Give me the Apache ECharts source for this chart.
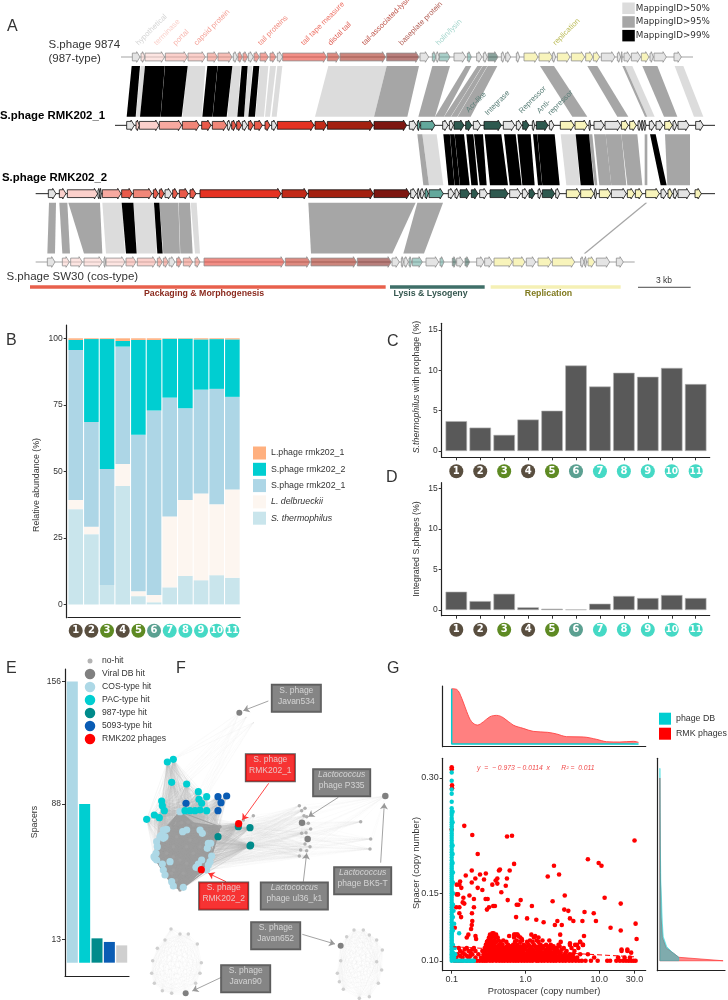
<!DOCTYPE html>
<html>
<head>
<meta charset="utf-8">
<style>html,body{margin:0;padding:0;background:#fff}#main{width:728px;height:1000px}</style>
<script src="https://cdn.jsdelivr.net/npm/echarts@6/dist/echarts.min.js"></script>
</head>
<body>
<div id="main"></div>
<script>
// ---------- panel A: genome tracks, [start, end, function]
const geneFill = { h:'#e4e4e4', term:'#fbd0cb', port:'#f7a9a0', caps:'#f08678', tail:'#e95a4a', tape:'#e53222', dist:'#c22a18', assoc:'#a32010', base:'#7d1610', holin:'#63a89c', lys:'#2e594f', rep:'#f8f4bb' };
const trackSpans = [[363,2079],[345,2145],[107,2145],[107,1904]];
const genes9874 = [[397,420,'h'],[423,435,'term'],[435,494,'term'],[496,562,'port'],[564,616,'port'],[622,652,'caps'],[654,696,'caps'],[700,712,'h'],[714,727,'tail'],[729,743,'tail'],[745,760,'h'],[762,778,'tail'],[780,805,'tail'],[810,828,'tail'],[832,848,'h'],[848,980,'tape'],[982,1018,'dist'],[1020,1157,'assoc'],[1160,1257,'base'],[1260,1286,'h'],[1297,1308,'holin'],[1308,1318,'h'],[1318,1350,'holin'],[1362,1397,'h'],[1402,1414,'holin'],[1430,1446,'h'],[1450,1462,'h'],[1464,1494,'lys'],[1504,1514,'h'],[1517,1532,'h'],[1549,1559,'h'],[1572,1614,'rep'],[1617,1657,'rep'],[1657,1667,'h'],[1672,1710,'rep'],[1714,1754,'rep'],[1757,1779,'rep'],[1780,1799,'rep'],[1804,1845,'h'],[1852,1862,'h'],[1864,1867,'h'],[1872,1892,'h'],[1894,1922,'h'],[1924,1947,'rep'],[1950,1960,'h'],[1962,1999,'h'],[2022,2044,'h']];
const genesRmk1 = [[380,403,'h'],[408,418,'term'],[418,477,'term'],[478,545,'port'],[547,598,'caps'],[605,633,'tail'],[637,680,'caps'],[682,692,'h'],[695,708,'tail'],[710,725,'tail'],[727,742,'h'],[745,760,'tail'],[763,787,'tail'],[795,810,'tail'],[815,830,'h'],[832,942,'tape'],[945,980,'dist'],[982,1119,'assoc'],[1122,1220,'base'],[1228,1249,'h'],[1252,1260,'holin'],[1262,1305,'holin'],[1328,1344,'h'],[1348,1360,'h'],[1362,1392,'lys'],[1397,1415,'lys'],[1420,1442,'h'],[1452,1504,'lys'],[1510,1544,'h'],[1549,1565,'h'],[1568,1587,'lys'],[1597,1604,'h'],[1609,1644,'lys'],[1648,1662,'h'],[1681,1722,'rep'],[1725,1762,'rep'],[1767,1772,'h'],[1782,1812,'h'],[1815,1862,'h'],[1864,1885,'rep'],[1889,1909,'rep'],[1914,1922,'h'],[1924,1930,'h'],[1932,1938,'h'],[1948,1964,'h'],[1968,1989,'h'],[1994,2017,'rep'],[2019,2030,'h'],[2034,2067,'h'],[2087,2110,'h']];
const genesRmk2 = [[145,168,'h'],[178,198,'term'],[202,293,'term'],[294,300,'h'],[300,304,'h'],[307,363,'port'],[365,397,'tail'],[400,456,'caps'],[460,475,'tail'],[478,492,'tail'],[495,515,'h'],[518,533,'tail'],[538,565,'tail'],[570,588,'tail'],[600,843,'tape'],[846,922,'dist'],[925,1120,'assoc'],[1122,1229,'base'],[1232,1249,'h'],[1252,1259,'h'],[1262,1272,'h'],[1275,1285,'holin'],[1287,1330,'holin'],[1345,1362,'h'],[1365,1377,'h'],[1380,1409,'lys'],[1414,1434,'lys'],[1439,1462,'h'],[1470,1524,'lys'],[1529,1562,'h'],[1567,1584,'h'],[1587,1605,'lys'],[1614,1624,'h'],[1627,1664,'lys'],[1667,1679,'h'],[1699,1740,'rep'],[1742,1782,'rep'],[1784,1790,'h'],[1798,1832,'rep'],[1834,1879,'h'],[1882,1903,'rep'],[1906,1927,'rep'],[1937,1978,'rep'],[1983,2000,'h'],[2004,2017,'rep'],[2020,2032,'h'],[2034,2070,'h'],[2085,2104,'rep']];
const genesSw30 = [[142,165,'h'],[187,208,'term'],[212,247,'term'],[252,307,'term'],[312,317,'h'],[318,375,'term'],[378,408,'port'],[412,468,'port'],[472,487,'caps'],[490,505,'caps'],[507,525,'h'],[530,545,'tail'],[550,578,'caps'],[585,600,'caps'],[612,853,'tape'],[856,930,'dist'],[933,1070,'assoc'],[1072,1174,'base'],[1176,1198,'h'],[1204,1210,'h'],[1212,1225,'h'],[1227,1235,'holin'],[1237,1267,'holin'],[1278,1316,'h'],[1320,1332,'holin'],[1357,1369,'lys'],[1370,1390,'h'],[1395,1409,'lys'],[1430,1452,'h'],[1454,1477,'h'],[1482,1537,'rep'],[1539,1575,'rep'],[1579,1607,'h'],[1614,1654,'rep'],[1657,1724,'rep'],[1742,1752,'h'],[1754,1760,'h'],[1764,1784,'rep'],[1789,1829,'h'],[1849,1870,'h']];
// homology blocks: [upper track, upper start, upper end, lower start, lower end]
const blocks50 = [[0,422,435,408,420],[0,563,616,547,605],[0,697,722,682,712],[0,745,757,732,745],[0,780,805,767,792],[0,810,828,795,810],[0,832,847,815,830],[0,985,1160,945,1122],[0,1875,1897,1942,1964],[0,2024,2050,2082,2110],[1,1267,1310,1287,1330],[1,1682,1727,1699,1740],[2,307,365,318,375],[2,400,462,412,470],[2,572,590,585,600]];
const blocks95 = [[0,1160,1257,1122,1222],[0,1297,1350,1255,1305],[0,1397,1414,1305,1332],[0,1432,1447,1332,1352],[0,1448,1462,1353,1372],[0,1463,1492,1373,1412],[0,1620,1662,1717,1762],[0,1762,1792,1852,1885],[0,1867,1875,1935,1942],[0,1927,1972,1992,2032],[1,1252,1267,1270,1287],[1,1767,1777,1784,1792],[1,1782,1817,1798,1834],[1,1817,1864,1834,1879],[1,1864,1912,1882,1927],[1,1934,1942,1934,1942],[1,1995,2070,2002,2070],[2,147,168,142,165],[2,178,202,187,210],[2,205,300,252,307],[2,478,535,490,540],[2,536,570,541,578],[2,925,1247,933,1177],[2,1252,1329,1210,1272],[2,1936,1942,1751,1757]];
const blocks99 = [[0,395,420,380,407],[0,435,494.5,420,481.5],[0,495,563,482,545],[0,622,652.5,607,637.5],[0,653,697,638,680],[0,725,743,712,732],[0,760,778,745,765],[1,1330,1349.5,1345,1363.5],[1,1350,1363.5,1364,1379.5],[1,1364,1392,1380,1409],[1,1399,1420,1414,1434],[1,1422,1449,1439,1460],[1,1454,1504,1470,1524],[1,1512,1547,1529,1565],[1,1552,1592,1567,1604],[1,1599,1611.5,1614,1626.5],[1,1612,1664,1627,1679],[1,1727,1767,1742,1782],[1,1950,1967,1982,2000],[2,365,400,378,410],[2,462,478,472,488]];
const moduleSpans = [[90,1157,'#e8604c'],[1170,1454,'#3f6f68'],[1472,1862,'#f5f0b5']];
const scaleBar = [1914,2072];

// ---------- panels B, C, D
const samples = [1,2,3,4,5,6,7,8,9,10,11];
const sampleColors = ['#594e3f','#594e3f','#5e8a23','#594e3f','#5e8a23','#5ba091','#45d9c5','#45d9c5','#45d9c5','#45d9c5','#45d9c5'];
const thermophilus = [35.8,26.4,7.3,44.5,3.1,0.8,6.4,10.7,9.1,11,10];
const delbrueckii = [3.4,2.8,0,8.3,1.8,2.7,26.6,28.5,32.6,26.6,33.2];
const sPhage1 = [56.4,39.3,43.6,44.1,58.9,69.4,44.7,34.5,39,43.4,34.8];
const sPhage2 = [3.8,31.2,48.8,2.1,35.6,26.5,22.1,26.1,18.9,18.7,21.6];
const lPhage = [0.6,0.3,0.3,1,0.6,0.6,0.2,0.2,0.4,0.3,0.4];
const withProphage = [3.7,2.9,2,3.9,5,10.6,8,9.7,9.2,10.3,8.3];
const integrated = [2.26,1.1,2,0.33,0.16,0.08,0.78,1.73,1.48,1.85,1.48];

// ---------- panel E
const hitTypes = ['no-hit','Viral DB hit','COS-type hit','PAC-type hit','987-type hit','5093-type hit','RMK202 phages'];
const hitColors = ['#b3b3b3','#808080','#add8e6','#00ced1','#008b8b','#0a5cb4','#ff0000'];
const spacerBars = [156,88,13.5,11.5,9.6];
const spacerColors = ['#add8e6','#00ced1','#008b8b','#0a5cb4','#cfcfcf'];

// ---------- panel F: network layout coordinates
const pacNodes = [[502,366],[520,358],[515,427],[560,432],[595,455],[620,470],[597,478],[605,490],[485,483],[487,497],[493,512],[463,525],[478,533],[440,538],[555,512],[570,512],[585,512],[600,510],[620,512]];
const blueNodes = [[654,470],[680,468],[663,488],[558,490],[654,512]];
const tealNodes = [[715,560],[750,563],[654,590],[752,615],[750,618]];
const cosNodes = [[490,570],[485,585],[500,568],[490,595],[470,605],[472,620],[468,640],[465,655],[470,660],[487,672],[490,690],[495,705],[515,725],[520,738],[550,742],[548,575],[560,570],[600,570],[607,580],[625,610],[632,610],[622,625],[635,648],[630,665],[625,675],[605,660],[595,672],[588,682],[620,690],[510,665],[495,590],[480,590],[462,650],[540,515]];
const innerNodes = [[565,547],[580,555],[545,548],[520,690],[540,750],[660,560],[500,600],[515,700],[530,720],[520,620],[560,620],[540,660],[580,640],[520,650],[550,700],[570,600],[500,640],[600,620],[530,590],[590,690],[560,670],[510,560],[620,580]];
const rightNodes = [[760,527],[730,540],[898,497],[915,505],[905,512],[920,530],[912,527],[932,567],[925,550],[918,578],[905,580],[915,612],[902,630],[920,632],[898,648],[918,650],[930,620],[1082,545],[1112,597],[1110,627]];
const viralHubs = [[906,548],[923,597],[1156,468]];
const javan534 = [[718,218],[738,232],[760,248]];
const ringLeft = [[557,1060],[513,867],[540,882],[565,882],[592,912],[604,968],[600,1000],[587,1030],[515,1060],[487,1052],[463,1030],[455,1000],[458,962],[472,925],[495,900]];
const ringRight = [[1022,917],[1062,870],[1090,870],[1108,885],[1130,900],[1147,930],[1130,965],[1145,990],[1135,1030],[1108,1070],[1078,1075],[1030,1048],[1012,1000],[1022,962],[1040,890],[1018,1025]];
const rmkNodes = [[716,551],[604,689]];
// label boxes: centre x, centre y, width, lines, style
const netLabels = [
  [889,175,49,'S. phage','Javan534','g'],[811,383,49,'S. phage','RMK202_1','r'],[1025,428,57,'*Lactococcus','phage P335','g'],
  [1088,722,57,'*Lactococcus','phage BK5-T','g'],[883,768,67,'*Lactococcus','phage ul36_k1','g'],[671,768,49,'S. phage','RMK202_2','r'],
  [827,887,49,'S. phage','Javan652','g'],[737,1016,49,'S. phage','Javan90','g']
];
const greyArrows = [[[805,183],[730,212]],[[1015,472],[925,530]],[[1142,668],[1153,490]],[[910,725],[920,640]],[[907,883],[1005,912]],[[662,1013],[577,1053]]];
const redArrows = [[[806,430],[727,540]],[[678,725],[625,700]]];

// ---------- panel G
const protoDensity = [[0.1,1],[0.117,0.988],[0.137,0.825],[0.16,0.584],[0.186,0.404],[0.223,0.343],[0.27,0.404],[0.33,0.494],[0.407,0.518],[0.5,0.476],[0.68,0.343],[0.93,0.283],[1.27,0.229],[2,0.211],[2.64,0.181],[3.6,0.133],[6.1,0.127],[9.2,0.084],[12.5,0.042],[19,0.036],[29,0.048],[34,0.03]];
const protoDensityDb = [[0.1,1],[0.1,0],[34,0]];
const spacerDensityRmk = [[0,0.1],[1,0.1],[0.3,0.1021],[0.22,0.1045],[0.1,0.108],[0.04,0.115],[0.02,0.13],[0.008,0.17],[0,0.3]];
const spacerDensityDb = [[0,0.1],[0.3,0.1],[0.3,0.1021],[0.19,0.1055],[0.11,0.1088],[0.055,0.1155],[0.04,0.1254],[0.016,0.1625],[0.008,0.2],[0.003,0.318],[0,0.318]];
const fitLine = [[0.105,0.1088],[30,0.1024]];
const rmkScattered = [[0.148,0.225],[0.19,0.213],[0.562,0.211],[0.656,0.212],[30,0.206],[0.225,0.19],[7,0.184],[9.8,0.18],[10.7,0.177],[0.7,0.179],[2.43,0.177],[0.187,0.172],[0.242,0.168],[0.29,0.169],[0.437,0.172],[0.45,0.173],[0.61,0.172],[0.155,0.167],[2,0.166],[2.85,0.168],[0.209,0.164],[0.274,0.163],[0.187,0.16],[0.13,0.161],[0.117,0.158],[0.127,0.158],[0.135,0.155],[0.415,0.164],[0.394,0.162],[0.355,0.158],[0.56,0.164],[0.415,0.159],[0.54,0.157],[0.225,0.155],[0.26,0.153],[0.47,0.151],[0.117,0.149],[0.122,0.149],[0.174,0.148],[0.144,0.146],[0.288,0.145],[0.307,0.145],[0.574,0.144],[0.86,0.144],[3.4,0.148],[11.8,0.146],[2.33,0.143],[0.2,0.145],[0.141,0.142],[0.148,0.141],[0.8,0.14],[0.76,0.14],[1.22,0.139],[19.5,0.141],[0.115,0.138],[0.127,0.138],[0.2,0.138],[0.32,0.138],[0.385,0.139],[0.365,0.139],[0.3,0.136],[3.35,0.136],[3.8,0.135],[0.188,0.133],[0.127,0.133],[0.134,0.13],[0.745,0.13],[1.05,0.129],[1.4,0.128],[4,0.129],[4.45,0.127],[6.3,0.134],[8.4,0.133],[9,0.127],[5.9,0.127],[1.76,0.126],[2.7,0.127],[2.5,0.124],[3.1,0.124],[14.2,0.122],[31,0.125],[19.5,0.12],[0.19,0.127],[0.187,0.124],[0.183,0.121],[0.11,0.122],[0.168,0.117],[0.16,0.115],[0.21,0.116],[0.214,0.114],[0.355,0.118],[0.37,0.118],[0.6,0.116],[0.7,0.117],[0.76,0.117],[0.8,0.116],[0.89,0.114],[1.35,0.116],[1.5,0.115],[2.95,0.117],[6.2,0.116],[32,0.114],[4,0.111],[4.7,0.11],[5.5,0.112],[6,0.11],[24,0.107],[20,0.107],[27,0.105],[0.1,0.32],[0.1,0.316],[0.101,0.287],[0.101,0.282],[0.1,0.22]];
const rmkBandY = [0.1,0.102,0.104,0.106,0.108,0.11,0.112,0.115,0.101,0.103,0.105,0.107,0.109,0.113,0.117];
const rmkBandX = [
  [0.11,0.12,0.13,0.14,0.16,0.18,0.2,0.22,0.24,0.26,0.28,0.3,0.33,0.36,0.4,0.44,0.48,0.52,0.57,0.62,0.68,0.74,0.8,0.88,0.96,1.05,1.15,1.25,1.4,1.5,1.65,1.8,2,2.2,2.4,2.6,2.9,3.2,3.5,3.9,4.3,4.8,5.3,5.8,6.5,7.7,9.5,12.8,14,17,19,21,23,25,27,29,31],
  [0.115,0.14,0.17,0.21,0.25,0.29,0.31,0.34,0.37,0.41,0.45,0.5,0.55,0.6,0.66,0.72,0.78,0.85,0.92,1,1.1,1.2,1.3,1.45,1.6,1.75,1.9,2.1,2.3,2.7,3,3.3,3.7,4.1,4.5,5,8.5,18,22,26],
  [0.12,0.15,0.19,0.23,0.27,0.3,0.33,0.36,0.4,0.44,0.47,0.51,0.56,0.61,0.67,0.73,0.8,0.87,0.95,1.02,1.12,1.22,1.35,1.5,1.7,1.95,2.15,2.5,2.9,3.4,4,4.4,5.5,7],
  [0.13,0.17,0.21,0.26,0.29,0.32,0.35,0.38,0.42,0.46,0.5,0.54,0.59,0.65,0.7,0.77,0.84,0.93,1.08,1.18,1.3,1.55,1.85,2.05,2.45,2.75,3.6,4.6,20,24],
  [0.125,0.16,0.2,0.28,0.31,0.34,0.37,0.41,0.45,0.49,0.53,0.6,0.66,0.75,0.82,0.9,1,1.2,1.4,1.7,2,2.3,2.65,3.3,4.2,5.2],
  [0.29,0.32,0.35,0.38,0.44,0.49,0.58,0.68,0.78,0.95,1.1,1.3,1.6,1.9,2.2,2.8,4,5,6],
  [0.3,0.33,0.36,0.4,0.46,0.55,0.72,0.85,1.05,1.25,1.5,3,5.5],
  [0.32,0.35,0.39,0.42,0.7,0.85,1.3],
  [0.27,0.31,0.35,0.39,0.43,0.47,0.53,0.58,0.64,0.71,0.77,0.84,0.91,1.01,1.09,1.19,1.32,1.42,1.58,1.72,1.87,2.05,2.25,2.5,2.75,3.05,3.4,3.8,4.2,4.7],
  [0.13,0.16,0.18,0.28,0.32,0.36,0.41,0.46,0.52,0.57,0.63,0.69,0.76,0.83,0.9,0.98,1.08,1.17,1.28,1.43,1.56,1.7,1.85,2.05,2.3,2.55,2.85,3.15,3.55,4.05],
  [0.14,0.18,0.28,0.33,0.37,0.43,0.48,0.53,0.58,0.65,0.72,0.79,0.86,0.94,1.06,1.16,1.27,1.45,1.65,1.8,2,2.25,2.6,3,3.5],
  [0.15,0.19,0.3,0.34,0.39,0.44,0.52,0.56,0.63,0.69,0.8,0.89,0.97,1.12,1.25,1.47,1.62,1.9,2.15,2.55,3.1],
  [0.3,0.34,0.37,0.42,0.47,0.56,0.63,0.73,0.86,1.02,1.15,1.35,1.52,1.75,2.1,2.4,2.9],
  [0.31,0.34,0.38,0.43,0.5,0.76,0.9,1.15,1.42,1.7,2.1],
  [0.33,0.36,0.4,0.72,0.78,1.2]
];
const dbColumnY = [0.1,0.101,0.102,0.103,0.104,0.105,0.106,0.107,0.108,0.109,0.11,0.111,0.112,0.113,0.114,0.115,0.116,0.117,0.118,0.119,0.12,0.122,0.124,0.126,0.128,0.13,0.132,0.134,0.136,0.138,0.14,0.142,0.144,0.146,0.148,0.15,0.152,0.154,0.156,0.158,0.16,0.162,0.164,0.166,0.168,0.17,0.172,0.174,0.176,0.178,0.18,0.183,0.186,0.189,0.192,0.195,0.198,0.2,0.203,0.206,0.209,0.212,0.215,0.218,0.221,0.224,0.227,0.23,0.233,0.236,0.24,0.243,0.246,0.25,0.26,0.273,0.28,0.295,0.31];
const dbOffColumn = [[0.104,0.105],[0.104,0.11],[0.104,0.12],[0.104,0.13],[0.104,0.14],[0.104,0.15],[0.104,0.16],[0.104,0.17],[0.103,0.18],[0.103,0.19],[0.103,0.2],[0.103,0.23],[0.103,0.245],[0.11,0.1],[0.12,0.1],[0.13,0.1],[0.14,0.1],[0.15,0.1],[0.16,0.1],[0.17,0.1],[0.18,0.1],[0.19,0.1],[0.2,0.1],[0.108,0.102],[0.112,0.104],[0.11,0.108],[0.126,0.118],[0.108,0.125],[0.106,0.135]];

const FONT = '"Liberation Sans", Arial, sans-serif';
const INK = '#333';
const chart = echarts.init(document.getElementById('main'), null, { renderer: 'canvas' });

function sampleLabelRich() {
  const rich = {};
  sampleColors.forEach((c, i) => {
    rich['c' + i] = { backgroundColor: c, color: '#fff', width: 14, height: 14, lineHeight: 14, borderRadius: 7, align: 'center', fontSize: i > 8 ? 9 : 10, fontWeight: 'bold', fontFamily: '"DejaVu Sans"' };
  });
  return rich;
}
function sampleAxis(gridIndex, min, max, margin) {
  return {
    type: 'value', gridIndex, min, max, splitLine: { show: false },
    axisLine: { onZero: false, lineStyle: { color: '#222', width: 1.2 } },
    axisTick: { length: 3, lineStyle: { color: '#333' }, customValues: samples },
    axisLabel: { margin, customValues: samples, formatter: (v) => '{c' + (v - 1) + '|' + v + '}', rich: sampleLabelRich() }
  };
}
function valueAxis(gridIndex, min, max, ticks, fontSize) {
  return {
    type: 'value', gridIndex, min, max, splitLine: { show: false },
    axisLine: { show: true, onZero: false, lineStyle: { color: '#222', width: 1.2 } },
    axisTick: { show: true, length: 3, lineStyle: { color: '#333' }, customValues: ticks },
    axisLabel: { color: INK, fontSize: fontSize || 8.5, fontFamily: FONT, margin: 4, customValues: ticks }
  };
}
const hiddenAxis = (gridIndex, min, max, inverse) => ({ type: 'value', gridIndex, min, max, inverse: !!inverse, show: false });

// panel A renderers
function arrowShape(api, a, b, track, lineColor, fill) {
  const p0 = api.coord([a, track]), p1 = api.coord([b, track]);
  const y = p0[1], head = Math.min(3.3, (p1[0] - p0[0]) * 0.6);
  return {
    type: 'polygon',
    shape: { points: [[p0[0], y - 3.9], [p1[0] - head, y - 3.9], [p1[0] - head, y - 5.3], [p1[0], y], [p1[0] - head, y + 5.3], [p1[0] - head, y + 3.9], [p0[0], y + 3.9]] },
    style: { fill, stroke: lineColor, lineWidth: 0.8 }
  };
}
const geneItems = [genes9874, genesRmk1, genesRmk2, genesSw30].flatMap((list, t) => list.map((g) => [g[0], g[1], t, g[2]]));
function blockSeries(name, color, list) {
  return {
    name, type: 'custom', xAxisIndex: 0, yAxisIndex: 0, silent: true, itemStyle: { color },
    data: list.map((b) => b.slice()),
    renderItem: (params, api) => {
      const t = api.value(0);
      const a = api.coord([api.value(1), t]), b = api.coord([api.value(2), t]);
      const c = api.coord([api.value(3), t + 1]), d = api.coord([api.value(4), t + 1]);
      const top = a[1] + 9, bot = c[1] - 8.5;
      return { type: 'polygon', shape: { points: [[a[0], top], [b[0], top], [d[0], bot], [c[0], bot]] }, style: { fill: color } };
    }
  };
}

// panel F graph
const netNodes = [], netLinks = [];
function addNodes(list, color, size, extra) {
  const start = netNodes.length;
  list.forEach((p) => netNodes.push({ value: p, symbolSize: size, itemStyle: Object.assign({ color }, extra || {}) }));
  return list.map((p, i) => start + i);
}
const idInner = addNodes(innerNodes, '#a0a0a0', 3.5);
const idRight = addNodes(rightNodes, '#b0b0b0', 3.5);
const idHubs = addNodes(viralHubs, '#808080', 6.5);
const idJ534 = [...addNodes(javan534.slice(0, 1), '#808080', 6), ...addNodes(javan534.slice(1), '#d8d8d8', 1)];
const idRingL = [...addNodes(ringLeft.slice(0, 1), '#808080', 6), ...addNodes(ringLeft.slice(1), '#cfcfcf', 3.5)];
const idRingR = [...addNodes(ringRight.slice(0, 1), '#808080', 6), ...addNodes(ringRight.slice(1), '#cfcfcf', 3.5)];
const idCos = addNodes(cosNodes, '#add8e6', 7.2);
const idPac = addNodes(pacNodes, '#00ced1', 7.2);
const idBlue = addNodes(blueNodes, '#0a5cb4', 7.2);
const idTeal = addNodes(tealNodes, '#008b8b', 7.2);
const idRmk = addNodes(rmkNodes, '#ff0000', 7.2);
function linkAll(a, b, color, opacity, width) {
  a.forEach((s) => b.forEach((t) => {
    if (s < t || a !== b) netLinks.push({ source: s, target: t, lineStyle: { color, opacity, width } });
  }));
}
const core = [...idCos, ...idInner, idRmk[1]];
linkAll(idRingL, idRingL, '#d0d0d0', 0.28, 0.3);
linkAll(idRingR, idRingR, '#d0d0d0', 0.28, 0.3);
linkAll(idJ534, idPac.slice(0, 10), '#d4d4d4', 0.25, 0.3);
linkAll(idRight, [...idTeal, idRmk[0], ...idHubs, ...idCos.slice(18, 29)], '#d0d0d0', 0.22, 0.3);
linkAll([...idPac, ...idBlue], core, '#b4b4b4', 0.22, 0.4);
linkAll(idPac, idPac, '#b4b4b4', 0.3, 0.4);
linkAll([...idTeal, idRmk[0]], core, '#b0b0b0', 0.3, 0.4);
linkAll(core, core, '#9c9c9c', 0.9, 1.1);

// panel G scatter points
const rmkPoints = rmkScattered.concat(rmkBandX.flatMap((row, i) => row.map((x) => [x, rmkBandY[i]])));
const dbPoints = dbColumnY.map((y) => [0.1, y]).concat(dbOffColumn);

const stackedBar = (name, color, values) => ({
  name, type: 'bar', xAxisIndex: 1, yAxisIndex: 1, stack: 'abund', barWidth: 14.6, silent: true,
  itemStyle: { color }, data: values
});
const greyBar = (values, axis) => ({
  type: 'bar', xAxisIndex: axis, yAxisIndex: axis, barWidth: 21.5, silent: true,
  itemStyle: { color: '#595959', borderColor: '#b5b5b5', borderWidth: 0.6 },
  data: values.map((v, i) => [i + 1, v])
});
function polySeries(points, fill, stroke) {
  return {
    type: 'custom', xAxisIndex: 9, yAxisIndex: 9, silent: true, data: points,
    itemStyle: { color: fill },
    renderItem: (params, api) => {
      if (params.dataIndex !== 0) return null;
      return { type: 'polygon', shape: { points: points.map((p) => api.coord(p)) }, style: { fill, stroke, lineWidth: 0.7 } };
    }
  };
}

function txt(text, x, y, o) {
  o = o || {};
  const font = (o.italic ? 'italic ' : '') + (o.bold ? 'bold ' : '') + (o.size || 9) + 'px ' + (o.family || FONT);
  return {
    type: 'text', x, y, z: 100, rotation: o.rotation || 0, silent: true,
    style: { text, fill: o.fill || INK, font, textAlign: o.align || 'left', textVerticalAlign: o.v || 'middle', rich: o.rich }
  };
}
const d45 = Math.PI / 4;
const geneLabel = (t, x, y, fill) => txt(t, x, y, { rotation: d45, size: 7.6, fill, v: 'bottom' });
const textLayer = [
  txt('A', 7, 27, { size: 16 }), txt('B', 6, 341, { size: 16 }), txt('C', 387, 342, { size: 16 }), txt('D', 386, 478, { size: 16 }),
  txt('E', 6, 669, { size: 16 }), txt('F', 176, 669, { size: 16 }), txt('G', 387, 669, { size: 16 }),
  txt('S.phage 9874', 48.5, 44.7, { size: 11.5 }), txt('(987-type)', 48.5, 59, { size: 11.5 }),
  txt('S.phage RMK202_1', 0, 116.3, { size: 11.4, bold: true, fill: '#000' }), txt('S.phage RMK202_2', 2, 178, { size: 11.4, bold: true, fill: '#000' }),
  txt('S.phage SW30 (cos-type)', 6.5, 277, { size: 11.5 }),
  geneLabel('hypothetical', 140, 47, '#d4d4d4'), geneLabel('terminase', 158, 47, '#fad2cc'), geneLabel('portal', 177, 47, '#f8b8b1'),
  geneLabel('capsid protein', 198, 47, '#f4a298'), geneLabel('tail proteins', 262, 47, '#f08a7e'), geneLabel('tail tape measure', 305, 47, '#ee7468'),
  geneLabel('distal tail', 332, 47, '#e0645a'), geneLabel('tail-associated-lysin', 366, 47, '#c0584e'), geneLabel('baseplate protein', 403, 47, '#b25e55'),
  geneLabel('holin/lysin', 440, 47, '#a6d6cd'), geneLabel('replication', 557, 47, '#bcbc5a'),
  geneLabel('Acr-like', 470, 114, '#5a7f78'), geneLabel('Integrase', 489, 117, '#5a7f78'), geneLabel('Repressor', 523, 115, '#5a7f78'),
  geneLabel('Anti-', 541, 115, '#5a7f78'), geneLabel('repressor', 552, 117, '#5a7f78'),
  txt('Packaging & Morphogenesis', 204, 294, { size: 8.8, bold: true, fill: '#8b2a1e', align: 'center' }),
  txt('Lysis & Lysogeny', 430.5, 294, { size: 8.8, bold: true, fill: '#35574f', align: 'center' }),
  txt('Replication', 548.5, 294, { size: 8.8, bold: true, fill: '#807a1e', align: 'center' }),
  txt('3 kb', 664, 281, { size: 8.5, align: 'center' }),
  txt('Relative abundance (%)', 37, 485, { rotation: d45 * 2, size: 8.8, align: 'center' }),
  txt('{i|S.thermophilus} with prophage (%)', 417, 387, { rotation: d45 * 2, size: 8.8, align: 'center', rich: { i: { fontStyle: 'italic', fontSize: 8.8, fontFamily: FONT, fill: INK } } }),
  txt('Integrated S.phages (%)', 417, 549, { rotation: d45 * 2, size: 8.8, align: 'center' }),
  txt('Spacers', 35, 822, { rotation: d45 * 2, size: 8.8, align: 'center' }),
  txt('Protospacer (copy number)', 544, 991, { size: 9.3, align: 'center' }),
  txt('Spacer (copy number)', 416.5, 863, { rotation: d45 * 2, size: 9.3, align: 'center' }),
  txt('y  =  − 0.973 − 0.0114  x      R² =  0.011', 477, 768, { size: 6.8, italic: true, fill: '#f04a4a' })
];

const option = {
  animation: false,
  backgroundColor: '#fff',
  textStyle: { fontFamily: FONT },
  grid: [
    { left: 0, top: 57, width: 728, height: 205 },
    { left: 67.9, top: 325, width: 172.3, height: 292.7 },
    { left: 441.7, top: 323.3, width: 268, height: 134 },
    { left: 441.7, top: 482.7, width: 268, height: 133 },
    { left: 65, top: 669, width: 64, height: 307 },
    { left: 80, top: 661, width: 20, height: 78 },
    { left: 0, top: 640, width: 400, height: 360 },
    { left: 442.7, top: 686, width: 203, height: 60.7 },
    { left: 442.7, top: 758.3, width: 203, height: 212.4 },
    { left: 657.3, top: 758.3, width: 67.7, height: 212.4 }
  ],
  xAxis: [
    hiddenAxis(0, 0, 2184),
    {
      type: 'category', gridIndex: 1, data: samples.map(String),
      axisLine: { onZero: false, lineStyle: { color: '#222', width: 1.2 } },
      axisTick: { length: 3, alignWithLabel: true, lineStyle: { color: '#333' } },
      axisLabel: { margin: 6, interval: 0, formatter: (v, i) => '{c' + i + '|' + v + '}', rich: sampleLabelRich() }
    },
    sampleAxis(2, 0.39, 11.585, 7),
    sampleAxis(3, 0.39, 11.585, 7),
    { type: 'value', gridIndex: 4, min: 0.408, max: 5.59, splitLine: { show: false }, axisTick: { show: false }, axisLabel: { show: false }, axisLine: { onZero: false, lineStyle: { color: '#222', width: 1.2 } } },
    hiddenAxis(5, 0, 1),
    hiddenAxis(6, 0, 1200),
    { type: 'log', gridIndex: 7, min: 0.0755, max: 42.5, splitLine: { show: false }, axisTick: { show: false }, axisLabel: { show: false }, axisLine: { onZero: false, lineStyle: { color: '#222', width: 1.2 } } },
    { type: 'log', gridIndex: 8, min: 0.0755, max: 42.5, splitLine: { show: false },
      axisLine: { onZero: false, lineStyle: { color: '#222', width: 1.2 } },
      axisTick: { length: 3, customValues: [0.1, 1, 10, 30], lineStyle: { color: '#333' } },
      axisLabel: { customValues: [0.1, 1, 10, 30], color: INK, fontSize: 9, margin: 4, fontFamily: FONT, formatter: (v) => Number(v).toFixed(1) } },
    { type: 'value', gridIndex: 9, min: -0.04, max: 1.03, splitLine: { show: false }, axisTick: { show: false }, axisLabel: { show: false }, axisLine: { onZero: false, lineStyle: { color: '#222', width: 1.2 } } }
  ],
  yAxis: [
    hiddenAxis(0, 0, 3, true),
    Object.assign(valueAxis(1, -5, 105, [0, 25, 50, 75, 100]), { offset: 1.2 }),
    valueAxis(2, -0.78, 15.83, [0, 5, 10, 15]),
    valueAxis(3, -0.7, 15.7, [0, 5, 10, 15]),
    valueAxis(4, -7.4, 163, [13, 88, 156]),
    hiddenAxis(5, 0, 6, true),
    hiddenAxis(6, 0, 1080, true),
    { type: 'value', gridIndex: 7, min: -0.049, max: 1.05, splitLine: { show: false }, axisTick: { show: false }, axisLabel: { show: false }, axisLine: { show: true, onZero: false, lineStyle: { color: '#222', width: 1.2 } } },
    { type: 'log', gridIndex: 8, min: 0.0942, max: 0.3377, splitLine: { show: false },
      axisLine: { show: true, onZero: false, lineStyle: { color: '#222', width: 1.2 } },
      axisTick: { show: true, length: 3, customValues: [0.1, 0.15, 0.3], lineStyle: { color: '#333' } },
      axisLabel: { customValues: [0.1, 0.15, 0.3], color: INK, fontSize: 9, margin: 4, fontFamily: FONT, formatter: (v) => Number(v).toFixed(2) } },
    { type: 'log', gridIndex: 9, min: 0.0942, max: 0.3377, splitLine: { show: false }, axisTick: { show: false }, axisLabel: { show: false }, axisLine: { show: true, onZero: false, lineStyle: { color: '#222', width: 1.2 } } }
  ],
  legend: [
    { orient: 'vertical', left: 622.3, top: 2.5, itemWidth: 12.5, itemHeight: 11.5, itemGap: 2.2, padding: 0, icon: 'rect', selectedMode: false,
      data: ['MappingID>50%', 'MappingID>95%', 'MappingID>99%'], textStyle: { fontFamily: '"DejaVu Sans"', fontSize: 8.8, color: INK, padding: [0, 0, 0, -4] } },
    { orient: 'vertical', left: 253, top: 446.5, itemWidth: 13, itemHeight: 13, itemGap: 3.3, padding: 0, icon: 'rect', selectedMode: false,
      data: ['L.phage rmk202_1', 'S.phage rmk202_2', 'S.phage rmk202_1', 'L. delbrueckii', 'S. thermophilus'],
      formatter: (n) => (n.startsWith('L. ') || n.startsWith('S. ') ? '{i|' + n + '}' : n),
      textStyle: { fontSize: 8.8, color: INK, fontFamily: FONT, rich: { i: { fontStyle: 'italic', fontSize: 8.8, color: INK, fontFamily: FONT } } } },
    { orient: 'vertical', left: 659, top: 712.7, itemWidth: 12, itemHeight: 12, itemGap: 3, padding: 0, icon: 'rect', selectedMode: false,
      data: ['phage DB', 'RMK phages'], textStyle: { fontSize: 8.8, color: INK, fontFamily: FONT } }
  ],
  graphic: textLayer,
  series: [
    // A
    blockSeries('MappingID>50%', '#dcdcdc', blocks50),
    blockSeries('MappingID>95%', '#a6a6a6', blocks95),
    blockSeries('MappingID>99%', '#000000', blocks99),
    {
      type: 'custom', xAxisIndex: 0, yAxisIndex: 0, silent: true, data: trackSpans,
      renderItem: (params, api) => {
        const t = params.dataIndex, a = api.coord([api.value(0), t]), b = api.coord([api.value(1), t]);
        const strong = t === 1 || t === 2;
        return { type: 'line', shape: { x1: a[0], y1: a[1], x2: b[0], y2: b[1] }, style: { stroke: strong ? '#222' : '#999', lineWidth: strong ? 1 : 0.9 } };
      }
    },
    {
      type: 'custom', xAxisIndex: 0, yAxisIndex: 0, silent: true, data: geneItems.map((g) => g.slice(0, 3)),
      renderItem: (params, api) => {
        const g = geneItems[params.dataIndex], strong = g[2] === 1 || g[2] === 2, c = geneFill[g[3]];
        const fill = strong || g[3] === 'h' || g[3] === 'rep' ? c : echarts.color.modifyAlpha(c, 0.55);
        return arrowShape(api, g[0], g[1], g[2], strong ? '#111' : '#8f8f8f', fill);
      }
    },
    {
      type: 'custom', xAxisIndex: 0, yAxisIndex: 0, silent: true, data: moduleSpans.map((m) => m.slice(0, 2)),
      renderItem: (params, api) => {
        const a = api.coord([api.value(0), 3.366]), b = api.coord([api.value(1), 3.366]);
        return { type: 'rect', shape: { x: a[0], y: a[1] - 1.8, width: b[0] - a[0], height: 3.6 }, style: { fill: moduleSpans[params.dataIndex][2] } };
      }
    },
    {
      type: 'custom', xAxisIndex: 0, yAxisIndex: 0, silent: true, data: [scaleBar],
      renderItem: (params, api) => {
        const a = api.coord([api.value(0), 3.37]), b = api.coord([api.value(1), 3.37]);
        return { type: 'line', shape: { x1: a[0], y1: a[1], x2: b[0], y2: b[1] }, style: { stroke: '#333', lineWidth: 0.9 } };
      }
    },
    // B
    stackedBar('S. thermophilus', '#c9e5ec', thermophilus),
    stackedBar('L. delbrueckii', '#fdf6f0', delbrueckii),
    stackedBar('S.phage rmk202_1', '#add6e6', sPhage1),
    stackedBar('S.phage rmk202_2', '#00ced1', sPhage2),
    stackedBar('L.phage rmk202_1', '#ffb07f', lPhage),
    // C, D
    greyBar(withProphage, 2),
    greyBar(integrated, 3),
    // E
    {
      type: 'bar', xAxisIndex: 4, yAxisIndex: 4, barWidth: 11, silent: true,
      data: spacerBars.map((v, i) => ({ value: [i + 1, v], itemStyle: { color: spacerColors[i] } }))
    },
    {
      type: 'scatter', xAxisIndex: 5, yAxisIndex: 5, silent: true,
      data: hitTypes.map((n, i) => ({
        name: n, value: [0.5, i], symbolSize: i === 0 ? 5 : 10.5, itemStyle: { color: hitColors[i], opacity: 1 },
        label: { distance: i === 0 ? 9.5 : 6.8 }
      })),
      label: { show: true, position: 'right', formatter: '{b}', color: INK, fontSize: 8.6, fontFamily: FONT }
    },
    // F
    {
      type: 'graph', coordinateSystem: 'cartesian2d', xAxisIndex: 6, yAxisIndex: 6, layout: 'none', silent: true,
      data: netNodes, links: netLinks, edgeSymbol: ['none', 'none'], label: { show: false }, z: 2
    },
    {
      type: 'lines', coordinateSystem: 'cartesian2d', xAxisIndex: 6, yAxisIndex: 6, silent: true, z: 3,
      symbol: ['none', 'arrow'], symbolSize: 6, lineStyle: { color: '#999', width: 0.9, opacity: 1, curveness: 0 },
      data: greyArrows.map((c) => ({ coords: c }))
    },
    {
      type: 'lines', coordinateSystem: 'cartesian2d', xAxisIndex: 6, yAxisIndex: 6, silent: true, z: 3,
      symbol: ['none', 'arrow'], symbolSize: 6, lineStyle: { color: '#f33', width: 0.9, opacity: 1, curveness: 0 },
      data: redArrows.map((c) => ({ coords: c }))
    },
    {
      type: 'scatter', xAxisIndex: 6, yAxisIndex: 6, silent: true, symbolSize: 0, z: 4,
      data: netLabels.map((b) => ({
        value: [b[0], b[1]],
        label: {
          show: true, position: 'inside', align: 'center', verticalAlign: 'middle', width: b[2], height: 27,
          backgroundColor: b[5] === 'r' ? '#f50000' : '#666', borderColor: '#333', borderWidth: 1, color: '#e6e6e6', fontSize: 8.5, lineHeight: 11, fontFamily: FONT,
          formatter: (b[3][0] === '*' ? '{i|' + b[3].slice(1) + '}' : b[3]) + '\n' + b[4],
          rich: { i: { fontStyle: 'italic', fontSize: 8.5, color: '#e6e6e6', fontFamily: FONT, lineHeight: 11 } }
        }
      }))
    },
    // G
    { type: 'line', xAxisIndex: 7, yAxisIndex: 7, silent: true, data: protoDensityDb, showSymbol: false, lineStyle: { color: '#00ced1', width: 1.5 } },
    { type: 'line', xAxisIndex: 7, yAxisIndex: 7, silent: true, data: protoDensity, smooth: 0.35, showSymbol: false, lineStyle: { color: '#f44', width: 0.9 }, areaStyle: { color: '#ff8080', opacity: 1, origin: 0 } },
    { name: 'RMK phages', type: 'scatter', xAxisIndex: 8, yAxisIndex: 8, silent: true, data: rmkPoints, symbolSize: 4.6, itemStyle: { color: '#ff0000', opacity: 1 } },
    { name: 'phage DB', type: 'scatter', xAxisIndex: 8, yAxisIndex: 8, silent: true, data: dbPoints, symbolSize: 4.4, itemStyle: { color: '#00ced1', opacity: 1 } },
    { type: 'line', xAxisIndex: 8, yAxisIndex: 8, silent: true, data: fitLine, showSymbol: false, lineStyle: { color: '#f00', width: 1, type: [5, 3] } },
    polySeries(spacerDensityRmk, 'rgba(255,40,40,0.55)', '#f33'),
    polySeries(spacerDensityDb, 'rgba(0,206,209,0.5)', 'rgba(0,206,209,0.6)')
  ]
};
chart.setOption(option);
</script>
</body>
</html>
